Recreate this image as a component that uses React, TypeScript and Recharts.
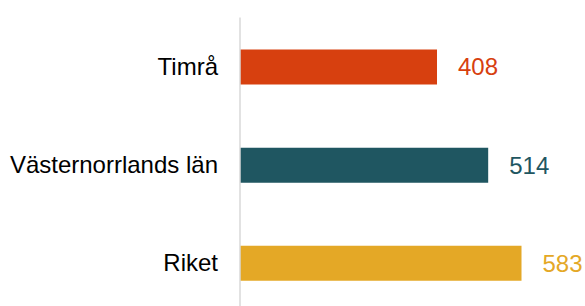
import React from 'react';
import { BarChart, Bar, XAxis, YAxis, Cell, LabelList } from 'recharts';

const categories = ['Timrå', 'Västernorrlands län', 'Riket'];
const values = [408, 514, 583];
const colors = ['#d7400f', '#1f5661', '#e4a826'];

const data = categories.map((name, i) => ({ name, value: values[i], color: colors[i] }));

const FONT = '"Liberation Sans", Arial, sans-serif';

const renderLabel = (props: any) => {
  const { x, y, width, height, value, index } = props;
  return (
    <text
      x={x + width + 21}
      y={y + height / 2}
      dy="0.35em"
      fill={colors[index]}
      fontSize={24}
      fontFamily={FONT}
      textAnchor="start"
    >
      {value}
    </text>
  );
};

export default function App() {
  return (
    <div style={{ position: 'fixed', left: 0, top: 0, width: 585, height: 306, overflow: 'hidden', background: '#fff' }}>
      <BarChart
        width={585}
        height={312}
        data={data}
        layout="vertical"
        margin={{ top: 17.5, right: 7, bottom: 0, left: 0 }}
        barSize={35}
      >
        <XAxis type="number" domain={[0, 700]} hide />
        <YAxis
          type="category"
          dataKey="name"
          width={240}
          axisLine={{ stroke: '#d9d9d9', strokeWidth: 1.5 }}
          tickLine={false}
          tickSize={0}
          tickMargin={22}
          tick={{ fill: '#000', fontSize: 24, fontFamily: FONT }}
        />
        <Bar dataKey="value" isAnimationActive={false}>
          {data.map((d, i) => (
            <Cell key={i} fill={d.color} />
          ))}
          <LabelList dataKey="value" content={renderLabel} />
        </Bar>
      </BarChart>
    </div>
  );
}
